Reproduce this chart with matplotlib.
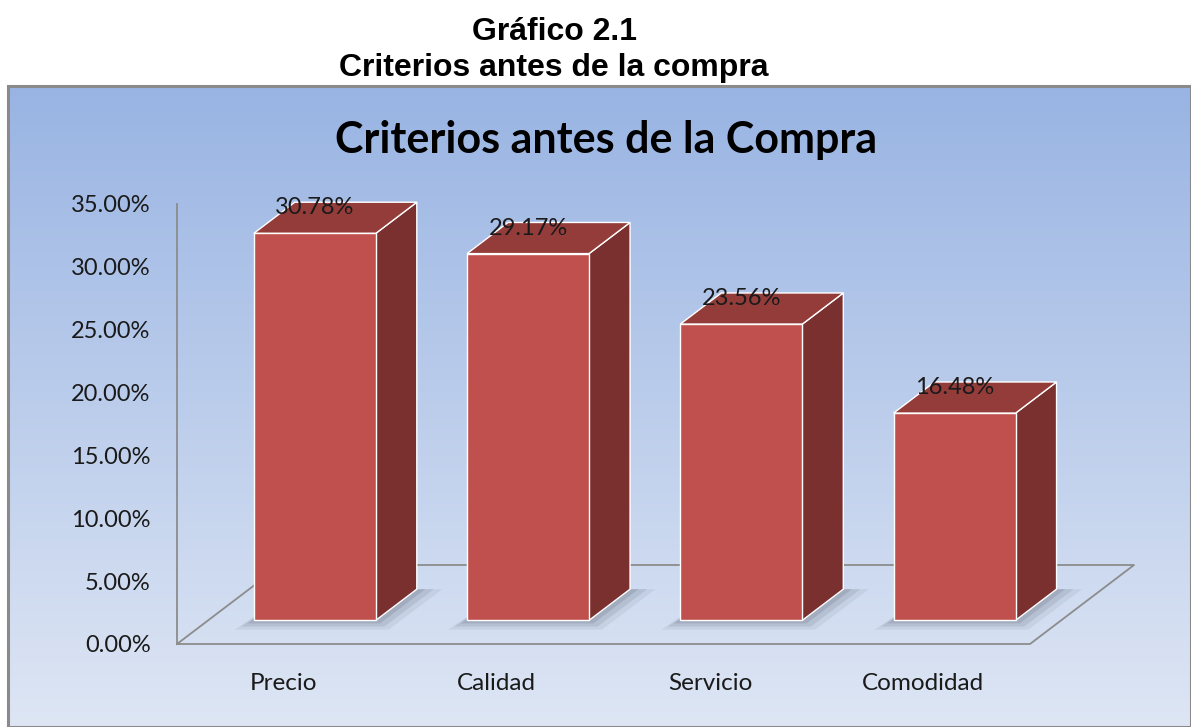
import numpy as np
import matplotlib
matplotlib.use('Agg')
import matplotlib.pyplot as plt
from matplotlib.patches import Polygon, Rectangle

# data
categories = ["Precio", "Calidad", "Servicio", "Comodidad"]
values = [30.78, 29.17, 23.56, 16.48]
yticks = [0, 5, 10, 15, 20, 25, 30, 35]

W_PX, H_PX = 1191, 727
FRONT = "#c0504d"
TOP = "#943c3a"
SIDE = "#7a302e"
FLOOR_LINE = "#8c8c8c"
TXT = "#1a1a1a"

fig = plt.figure(figsize=(W_PX / 100, H_PX / 100), dpi=100)
fig.patch.set_facecolor("white")

# headings above the chart box
fig.text(554 / W_PX, 1 - 40 / H_PX, "Gráfico 2.1", ha="center", va="baseline",
         fontsize=23, fontweight="bold", family="Liberation Sans")
fig.text(554 / W_PX, 1 - 76 / H_PX, "Criterios antes de la compra", ha="center", va="baseline",
         fontsize=23, fontweight="bold", family="Liberation Sans")

# chart area with vertical gradient
top_frac = 1 - 86 / H_PX
bg = fig.add_axes([8 / W_PX, 0, 1 - 8 / W_PX, top_frac])
grad = np.linspace(0, 1, 256).reshape(-1, 1)
c_top = np.array([0x99, 0xb4, 0xe3]) / 255
c_bot = np.array([0xde, 0xe6, 0xf4]) / 255
img = c_top + (c_bot - c_top) * grad[:, :, None]
bg.imshow(img, aspect="auto", extent=[0, 1, 0, 1], origin="upper")
bg.set_xlim(0, 1); bg.set_ylim(0, 1)
bg.axis("off")
bg.add_patch(Rectangle((0, 0), 1, 1, transform=bg.transAxes, fill=False,
                       edgecolor="#8a8a8a", lw=2.2, clip_on=False))

fig.text(606 / W_PX, 1 - 140 / H_PX, "Criterios antes de la Compra", ha="center", va="center",
         fontsize=31, fontweight="bold", family="Lato", color="black")

# plotting axes: floor front edge x 177..1030 px, y 0% at 644 px, 35% at 204 px
x0_px, x1_px, y0_px, y1_px = 177, 1030, 644, 204
ax = fig.add_axes([x0_px / W_PX, 1 - y0_px / H_PX,
                   (x1_px - x0_px) / W_PX, (y0_px - y1_px) / H_PX])
ax.set_facecolor("none")
n = len(categories)
ax.set_xlim(0, n)
ax.set_ylim(0, 35)
px_x = (x1_px - x0_px) / n
px_y = (y0_px - y1_px) / 35.0

# depth projection (floor depth = 104 px right, 79 px up)
DX = 104 / px_x
DY = 79 / px_y
f_d, b_d = 0.30, 0.694
bw = 122 / px_x

# floor outline
floor = [(0, 0), (n, 0), (n + DX, DY), (DX, DY), (0, 0)]
fx, fy = zip(*floor)
ax.plot(fx, fy, color=FLOOR_LINE, lw=1.3, zorder=1, clip_on=False)

for i, v in enumerate(values):
    xc = i + 0.5
    xl, xr = xc - bw / 2, xc + bw / 2
    fxo, fyo = f_d * DX, f_d * DY
    bxo, byo = b_d * DX, b_d * DY
    # soft shadow
    for k, a in zip([3.0, 2.0, 1.0], [0.07, 0.10, 0.13]):
        ex = k * 0.02
        ey = k * 0.25
        shadow = Polygon([(xl + fxo - ex * 1.5, fyo - ey), (xr + fxo + ex, fyo - ey),
                          (xr + bxo + ex * 2, byo), (xl + bxo, byo)],
                         closed=True, facecolor="#2a3340", alpha=a, lw=0,
                         zorder=2, clip_on=False)
        ax.add_patch(shadow)
    front = Polygon([(xl + fxo, fyo), (xr + fxo, fyo), (xr + fxo, fyo + v), (xl + fxo, fyo + v)],
                    closed=True, facecolor=FRONT, edgecolor="white", lw=1.0, zorder=4, clip_on=False)
    side = Polygon([(xr + fxo, fyo), (xr + bxo, byo), (xr + bxo, byo + v), (xr + fxo, fyo + v)],
                   closed=True, facecolor=SIDE, edgecolor="white", lw=1.0, zorder=3, clip_on=False)
    top = Polygon([(xl + fxo, fyo + v), (xr + fxo, fyo + v), (xr + bxo, byo + v), (xl + bxo, byo + v)],
                  closed=True, facecolor=TOP, edgecolor="white", lw=1.0, zorder=3, clip_on=False)
    ax.add_patch(side)
    ax.add_patch(top)
    ax.add_patch(front)
    ax.annotate(f"{v:.2f}%", (xc + fxo, v + byo), xytext=(0, -4), textcoords="offset points",
                ha="center", va="center", fontsize=17, family="Lato", color=TXT,
                zorder=6, annotation_clip=False)

for s in ["top", "right", "bottom"]:
    ax.spines[s].set_visible(False)
ax.spines["left"].set_color(FLOOR_LINE)
ax.spines["left"].set_linewidth(1.3)
ax.spines["left"].set_zorder(1)

ax.set_yticks(yticks)
ax.set_yticklabels([f"{t:.2f}%" for t in yticks], fontsize=17, family="Lato", color=TXT)
ax.tick_params(axis="y", length=0, pad=19)
ax.set_xticks([i + 0.5 for i in range(n)])
ax.set_xticklabels(categories, fontsize=17.5, family="Lato", color=TXT)
ax.tick_params(axis="x", length=0, pad=21)

fig.savefig("out.png", dpi=100)
